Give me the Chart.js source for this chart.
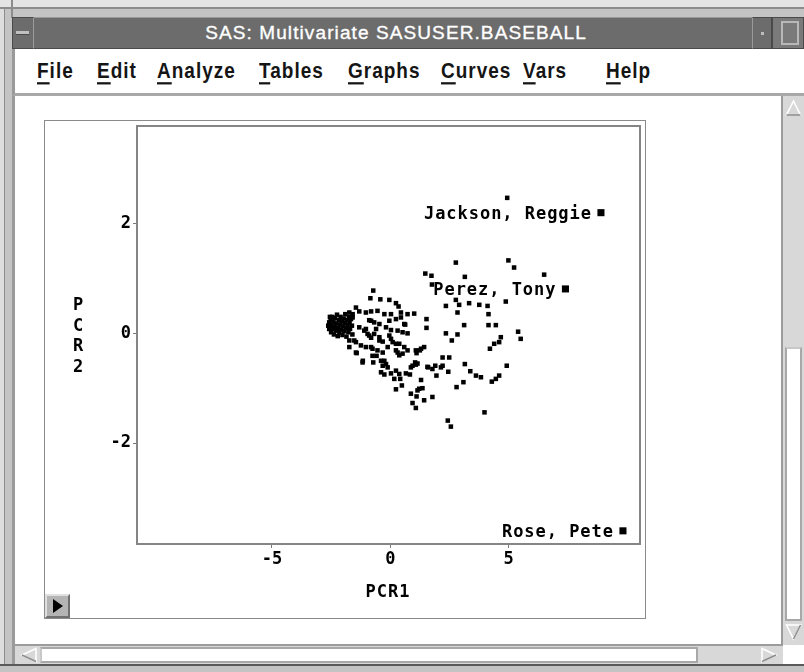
<!DOCTYPE html>
<html>
<head>
<meta charset="utf-8">
<script src="https://cdn.jsdelivr.net/npm/chart.js@4.4.1/dist/chart.umd.min.js"></script>
<style>
html, body { margin: 0; padding: 0; }
body { width: 804px; height: 672px; position: relative; overflow: hidden; background: #c4c4c4;
       font-family: "Liberation Sans", "DejaVu Sans", sans-serif; }
.abs { position: absolute; box-sizing: border-box; }
.menu span { position: absolute; top: 60px; font-size: 19px; font-weight: bold; color: #151515;
             letter-spacing: 1px; transform: scaleY(1.12); transform-origin: left center; }
.menu u { text-decoration-thickness: 2px; text-underline-offset: 4px; }
</style>
</head>
<body>
<!-- window frame -->
<div class="abs" style="left:0;top:0;width:804px;height:8px;background:#e4e4e4;"></div>
<div class="abs" style="left:0;top:7px;width:804px;height:2px;background:#8c8c8c;"></div>
<div class="abs" style="left:11px;top:0;width:2px;height:18px;background:#8c8c8c;"></div>
<div class="abs" style="left:0;top:9px;width:4px;height:663px;background:#dedede;"></div>
<div class="abs" style="left:4px;top:9px;width:1px;height:663px;background:#8c8c8c;"></div>

<!-- title bar -->
<div class="abs" style="left:12px;top:17px;width:792px;height:32px;background:#6c6c6c;border-top:1px solid #9a9a9a;border-bottom:1px solid #4a4a4a;"></div>
<div class="abs" style="left:12px;top:17px;width:22px;height:32px;border:1px solid #4a4a4a;border-right-color:#9a9a9a;"></div>
<div class="abs" style="left:16px;top:31px;width:13px;height:4px;background:#c0c0c0;border-bottom:1px solid #4a4a4a;"></div>
<div class="abs" style="left:0;top:17px;width:792px;height:32px;text-align:center;line-height:32px;color:#fff;font-size:19px;letter-spacing:1.1px;-webkit-text-stroke:0.35px #fff;">SAS: Multivariate SASUSER.BASEBALL</div>
<div class="abs" style="left:752px;top:17px;width:20px;height:32px;border:1px solid #4a4a4a;border-left-color:#9a9a9a;"></div>
<div class="abs" style="left:761px;top:32px;width:3px;height:3px;background:#bdbdbd;"></div>
<div class="abs" style="left:772px;top:17px;width:32px;height:32px;background:#7a7a7a;border:1px solid #4a4a4a;"></div>
<div class="abs" style="left:781px;top:21px;width:18px;height:24px;border:2px solid #b8b8b8;"></div>

<!-- menu bar -->
<div class="abs" style="left:12px;top:49px;width:792px;height:47px;background:#fff;border-left:3px solid #9a9a9a;border-bottom:3px solid #a8a8a8;"></div>
<div class="menu">
  <span style="left:37px;"><u>F</u>ile</span>
  <span style="left:97px;"><u>E</u>dit</span>
  <span style="left:157px;"><u>A</u>nalyze</span>
  <span style="left:259px;"><u>T</u>ables</span>
  <span style="left:348px;"><u>G</u>raphs</span>
  <span style="left:441px;"><u>C</u>urves</span>
  <span style="left:523px;"><u>V</u>ars</span>
  <span style="left:606px;"><u>H</u>elp</span>
</div>

<!-- content area -->
<div class="abs" style="left:12px;top:96px;width:770px;height:548px;background:#fff;border-left:3px solid #9a9a9a;"></div>

<!-- vertical scrollbar -->
<div class="abs" style="left:781px;top:96px;width:23px;height:549px;background:#d8d8d8;border-left:2px solid #9c9c9c;"></div>
<svg class="abs" style="left:785px;top:99px;" width="17" height="18"><polygon points="8.5,2 15.5,16 1.5,16" fill="#d8d8d8" stroke="#ffffff" stroke-width="1.6"/><line x1="1.5" y1="16" x2="15.5" y2="16" stroke="#8c8c8c" stroke-width="1.6"/></svg>
<div class="abs" style="left:785px;top:347px;width:17px;height:274px;background:#fff;border:2px solid #a8a8a8;border-top-color:#c8c8c8;"></div>
<svg class="abs" style="left:785px;top:623px;" width="17" height="18"><polygon points="1.5,2 15.5,2 8.5,16" fill="#d8d8d8" stroke="#ffffff" stroke-width="1.6"/><line x1="8.5" y1="16" x2="15.5" y2="2" stroke="#8c8c8c" stroke-width="1.6"/></svg>

<!-- horizontal scrollbar -->
<div class="abs" style="left:12px;top:644px;width:771px;height:20px;background:#d8d8d8;border-top:2px solid #9c9c9c;border-left:3px solid #9a9a9a;"></div>
<svg class="abs" style="left:20px;top:647px;" width="18" height="16"><polygon points="2,8 16,1.5 16,14.5" fill="#d8d8d8" stroke="#ffffff" stroke-width="1.6"/><line x1="2" y1="8" x2="16" y2="14.5" stroke="#8c8c8c" stroke-width="1.6"/></svg>
<div class="abs" style="left:40px;top:647px;width:658px;height:16px;background:#fff;border:2px solid #a8a8a8;border-left-color:#c8c8c8;"></div>
<svg class="abs" style="left:760px;top:647px;" width="18" height="16"><polygon points="2,1.5 16,8 2,14.5" fill="#d8d8d8" stroke="#ffffff" stroke-width="1.6"/><line x1="2" y1="14.5" x2="16" y2="8" stroke="#8c8c8c" stroke-width="1.6"/></svg>
<div class="abs" style="left:783px;top:645px;width:21px;height:19px;background:#fff;"></div>
<div class="abs" style="left:0;top:664px;width:804px;height:8px;background:#c4c4c4;border-top:2px solid #5a5a5a;"></div>

<!-- graph frame -->
<div class="abs" style="left:44px;top:120px;width:602px;height:499px;border:1px solid #8a8a8a;background:#fff;">
  <canvas id="plot" width="600" height="497" style="position:absolute;left:0;top:0;"></canvas>
</div>
<div class="abs" style="left:45px;top:594px;width:25px;height:24px;background:#b4b4b4;border:2px solid #e0e0e0;border-right-color:#707070;border-bottom-color:#707070;"></div>
<svg class="abs" style="left:52px;top:598px;" width="12" height="16"><polygon points="1,1 11,8 1,15" fill="#000"/></svg>

<script>
// Principal component scores for the baseball players
const pcr1 = [
  -2.62, -2.58, -2.58, -2.52, -2.50, -2.48, -2.45, -2.42, -2.40, -2.38,
  -2.35, -2.33, -2.30, -2.28, -2.25, -2.22, -2.20, -2.18, -2.15, -2.12,
  -2.10, -2.07, -2.05, -2.02, -2.00, -1.97, -1.95, -1.92, -1.90, -1.87,
  -1.85, -1.82, -1.80, -1.77, -1.75, -1.72, -1.70, -1.66, -1.62, -1.60,
  -2.55,
  -0.72, -0.84, -0.42, -0.04, 0.24, 0.35,
  -1.45, -1.31, -1.03, -0.81, -0.54, -0.25, 0.03, 0.45, 0.73, 1.01,
  0.45, 0.59, -1.59, -0.89, -0.68, -0.46, -0.18, 0.03, 0.31, 0.52, 0.73,
  -0.04, 0.24, -1.31, -1.10, -0.96, -0.81, -0.46, -0.32, 0.03,
  -1.73, -1.45, -1.24, -1.03, -0.75, -0.54, -0.32, 0.38, 0.59,
  0.24, 0.52, 0.73, 1.08, 1.30, 0.63, -0.81, -1.73, -1.59,
  -0.60, -0.68, -1.03, -0.04, 0.24, 0.38, -1.16, -0.72, -0.25, -0.18,
  -1.45, -1.73, -1.52, -0.89, -0.46, -0.81, -0.75, -0.11, 0.10,
  1.11, 1.25, 1.43,
  -1.42, -1.17, -0.58, -0.39, -0.32, -0.11, -0.39, -0.25, 0.03,
  0.24, 0.38, 0.66, 0.83, 0.87, 1.08, 1.15, 0.17, 0.42, 0.49,
  0.24, 1.30, 1.57, 1.22, 1.15, 0.87, 1.11, 1.43, 0.94, 1.08,
  0.31, 1.05, 0.94,
  1.60, 1.78, 1.90, 2.14, 2.21, 2.45, 1.95, 1.36, 1.78,
  4.94, 2.77, 4.99, 5.23, 6.50, 1.48, 1.74, 3.15, 1.76,
  2.35, 2.91, 2.77, 3.33, 3.76, 4.11, 4.88, 2.84, 4.15,
  1.53, 1.53, 3.12, 4.15, 4.46, 5.40, 5.51, 2.35, 2.84, 2.60,
  4.67, 4.60, 4.39, 4.21, 2.21, 2.49, 3.15, 3.38, 3.62, 3.83,
  4.92, 4.60, 4.46, 4.29, 3.09, 2.80, 3.98, 2.43, 2.56
];
const pcr2 = [
  0.14, 0.20, 0.08, 0.25, 0.02, 0.15, 0.30, 0.08, 0.21, -0.02,
  0.12, 0.28, 0.05, 0.18, 0.34, -0.05, 0.10, 0.24, 0.02, 0.16,
  0.30, 0.07, 0.22, -0.03, 0.13, 0.27, 0.04, 0.19, 0.35, 0.10,
  -0.06, 0.24, 0.15, 0.02, 0.30, 0.20, 0.08, 0.26, 0.14, -0.02,
  0.30,
  0.78, 0.64, 0.62, 0.61, 0.55, 0.49,
  0.47, 0.40, 0.38, 0.40, 0.41, 0.35, 0.35, 0.38, 0.35, 0.36,
  0.29, 0.17, 0.35, 0.24, 0.20, 0.17, 0.11, 0.06, 0.05, 0.02, 0.00,
  0.23, 0.26, 0.11, 0.05, -0.01, -0.08, -0.07, -0.15, -0.10,
  -0.13, -0.16, -0.22, -0.25, -0.28, -0.31, -0.35, -0.19, -0.25,
  -0.31, -0.37, -0.31, -0.31, -0.28, 0.16, 0.23, 0.38, 0.29,
  0.08, -0.01, 0.08, -0.04, -0.19, -0.40, -0.50, -0.53, -0.50, -0.56,
  -0.35, -0.25, -0.13, -0.04, -0.13, -0.25, -0.41, -0.25, -0.16,
  -0.36, -0.31, -0.25,
  -0.36, -0.53, -0.41, -0.50, -0.59, -0.62, -0.71, -0.75, -0.73,
  -0.68, -0.74, -0.73, -0.75, -0.62, -0.57, -0.55, -0.83, -0.83, -0.95,
  -1.02, -0.85, -0.61, -1.01, -1.04, -1.10, -1.15, -1.22, -1.27, -1.36,
  -0.35, -0.53, -0.59,
  -0.62, -0.65, -0.59, -0.62, -0.59, -0.70, -0.77, -1.00, -1.16,
  2.47, 1.29, 1.33, 1.20, 1.07, 1.09, 1.05, 1.03, 0.89,
  0.50, 0.52, 0.61, 0.55, 0.52, 0.50, 0.58, 0.38, 0.35,
  0.26, 0.10, 0.15, 0.15, 0.15, 0.03, -0.10, 0.00, -0.02, -0.13,
  -0.07, -0.16, -0.19, -0.28, -0.44, -0.44, -0.56, -0.69, -0.77, -0.80,
  -0.59, -0.77, -0.83, -0.88, -0.89, -0.98, -1.44, -1.59, -1.70
];

// Labelled players
const labelNames = ['Jackson, Reggie', 'Perez, Tony', 'Rose, Pete'];
const labelPcr1 = [8.90, 7.40, 9.83];
const labelPcr2 = [2.20, 0.81, -3.60];

// Axis ticks and titles
const xTickValues = [-5, 0, 5];
const yTickValues = [-2, 0, 2];
const xTitle = 'PCR1';
const yTitle = 'PCR2';

const MONO = '"DejaVu Sans Mono", "Liberation Mono", monospace';
const ADV = 11.2;   // character advance of the plot lettering

function drawSpaced(ctx, text, x, y) {
  for (let i = 0; i < text.length; i++) ctx.fillText(text[i], x + i * ADV, y);
}

const framePlugin = {
  id: 'frame',
  afterDraw(chart) {
    const { ctx, chartArea: a } = chart;
    ctx.save();
    ctx.strokeStyle = '#858585';
    ctx.lineWidth = 2;
    ctx.strokeRect(a.left, a.top, a.right - a.left, a.bottom - a.top);
    ctx.restore();
  }
};

const labelPlugin = {
  id: 'pointLabels',
  afterDatasetsDraw(chart) {
    const { ctx, scales } = chart;
    ctx.save();
    ctx.fillStyle = '#000';
    ctx.font = 'bold 17px ' + MONO;
    ctx.textBaseline = 'alphabetic';
    ctx.textAlign = 'left';
    labelNames.forEach((name, i) => {
      const px = scales.x.getPixelForValue(labelPcr1[i]);
      const py = scales.y.getPixelForValue(labelPcr2[i]);
      drawSpaced(ctx, name, px - (name.length * ADV + 9), py + 6);
    });
    // axis titles
    const a = chart.chartArea;
    ctx.textAlign = 'center';
    const cx = (a.left + a.right) / 2 - 1;
    const w = (xTitle.length - 1) * ADV;
    for (let i = 0; i < xTitle.length; i++) ctx.fillText(xTitle[i], cx - w / 2 + i * ADV, 476);
    const cy = (a.top + a.bottom) / 2;
    const step = 20.6;
    for (let i = 0; i < yTitle.length; i++) {
      ctx.fillText(yTitle[i], 33, cy + (i - (yTitle.length - 1) / 2) * step + 6);
    }
    ctx.restore();
  }
};

const tickFont = { family: MONO, size: 17, weight: 'bold' };

new Chart(document.getElementById('plot'), {
  type: 'scatter',
  data: {
    datasets: [
      {
        data: pcr1.map((v, i) => ({ x: v, y: pcr2[i] })),
        pointStyle: 'rect', pointRadius: 3.2, pointHoverRadius: 3.2,
        backgroundColor: '#000', borderWidth: 0
      },
      {
        data: labelPcr1.map((v, i) => ({ x: v, y: labelPcr2[i] })),
        pointStyle: 'rect', pointRadius: 5, pointHoverRadius: 5,
        backgroundColor: '#000', borderWidth: 0
      }
    ]
  },
  options: {
    responsive: false,
    animation: false,
    devicePixelRatio: 1,
    layout: { padding: { left: 0, top: 4, right: 4, bottom: 0 } },
    plugins: { legend: { display: false }, tooltip: { enabled: false } },
    events: [],
    scales: {
      x: {
        type: 'linear', min: -10.7, max: 10.55,
        afterBuildTicks: s => { s.ticks = xTickValues.map(v => ({ value: v })); },
        afterFit: s => { s.height = 74; s.paddingLeft = 0; s.paddingRight = 0; },
        border: { display: false },
        grid: { drawOnChartArea: false, drawTicks: true, tickLength: 4, color: '#7a7a7a', lineWidth: 1 },
        ticks: { color: '#000', font: tickFont, padding: 1, maxRotation: 0, autoSkip: false,
                 callback: v => String(v) }
      },
      y: {
        type: 'linear', min: -3.84, max: 3.78,
        afterBuildTicks: s => { s.ticks = yTickValues.map(v => ({ value: v })); },
        afterFit: s => { s.width = 92; s.paddingTop = 0; s.paddingBottom = 0; },
        border: { display: false },
        grid: { drawOnChartArea: false, drawTicks: true, tickLength: 4, color: '#7a7a7a', lineWidth: 1 },
        ticks: { color: '#000', font: tickFont, padding: 2, autoSkip: false,
                 callback: v => String(v) }
      }
    }
  },
  plugins: [framePlugin, labelPlugin]
});
</script>
</body>
</html>
